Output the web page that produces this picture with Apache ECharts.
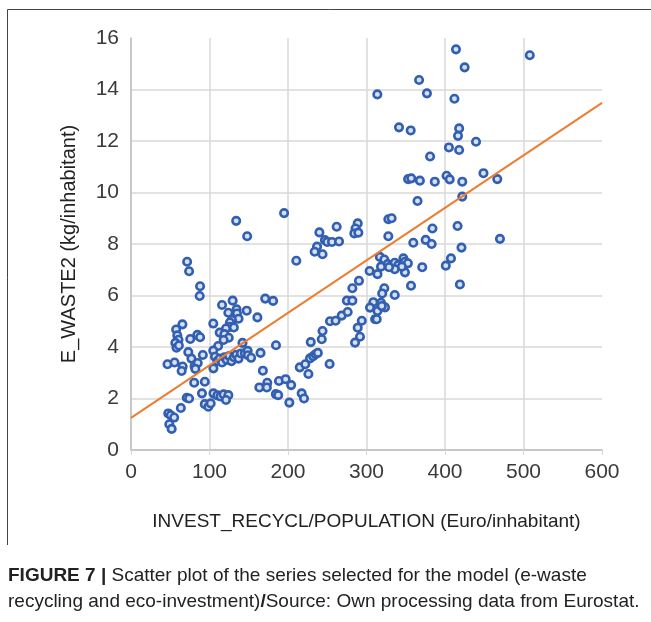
<!DOCTYPE html>
<html><head><meta charset="utf-8">
<script src="https://cdn.jsdelivr.net/npm/echarts@6/dist/echarts.min.js"></script>
<style>html,body{margin:0;padding:0;background:#fff}#c{width:651px;height:622px}</style>
</head><body><div id="c"></div>
<script>
// INVEST_RECYCL/POPULATION (Euro/inhabitant)
const invest = [
 48.8,51.8,47.5,50.6,55,63.5,71,74,46.5,55.5,65.8,64.5,65.5,57.5,59,60.5,56.5,58,61,71.5,
 74,88,87.5,75.5,84.5,88,73,77,81,85,82,91.5,80.5,94,90.4,94,98.5,101.5,105,110,
 114,118,124,121,129.5,116,134.5,135,147.4,124,137,128.5,126,104.8,126,131,121,113,119,124.5,
 118,111,104.8,142,105,107,110,113,116,119,122,125,128,131,134,137,140,145,148.6,149,
 153,165,134,148,195,210.6,171,181,161,184.7,163.5,173.6,173,168,184.5,187.5,188.5,197,204,201.7,
 217.4,220.4,215,222,226,228,232,235,238,229,243,253,244,240,262,247,250,256,265,237,
 234,244,253.5,260.7,268.4,276,275,282,282,290.4,294,288.8,291.7,285.4,288.8,286,284.5,289.6,304,314,
 349,371,401,407.6,356.7,419,322.7,320,336,308.7,304.5,314,318.5,323.6,319.4,311,313,317,322.7,327,
 332,336,340.5,347,349,352.7,345,336,328.7,318.5,327.8,332,327.8,384,416,359.6,375.4,383,421,470,
 365,422,353,357,368,387,402,406,422,449,466.6,381,405,418,439.5,418,416.6,341.4,356.3,313.8,
 377,412,367,425,414,508
];
// E_WASTE2 (kg/inhabitant)
const ewaste = [
 1.0,0.82,1.42,1.35,1.26,1.63,2.03,2.0,3.33,3.4,3.24,3.07,4.88,4.68,4.45,4.28,4.16,3.97,4.06,7.31,
 6.94,6.36,5.98,4.31,4.47,4.38,3.8,3.55,3.25,3.38,3.15,3.69,2.61,2.65,2.2,1.78,1.68,1.81,2.2,2.12,
 2.08,2.16,2.13,1.94,5.8,5.63,5.46,5.3,5.41,5.33,5.1,5.05,4.95,4.91,4.78,4.76,4.72,4.56,4.5,4.36,
 4.27,4.04,3.86,4.16,3.17,3.62,3.45,3.55,3.4,3.6,3.5,3.65,3.45,3.6,3.7,3.55,3.75,3.76,3.85,3.68,
 3.58,3.77,8.9,8.3,9.2,7.35,5.88,5.79,5.15,4.07,2.43,2.61,2.43,3.08,2.17,2.13,2.68,2.75,2.52,1.84,
 2.2,2.0,3.21,3.33,2.95,3.56,3.64,3.72,3.77,4.19,4.3,3.34,4.62,8.45,8.67,8.15,8.08,8.08,8.1,7.9,
 7.7,7.6,5.0,5.02,5.22,5.36,5.8,5.8,6.28,6.57,5.02,4.75,4.4,4.17,8.8,8.6,8.41,8.44,6.95,6.83,
 6.9,7.1,7.16,7.44,6.38,6.43,6.28,6.08,6.02,5.74,5.53,5.4,5.72,5.54,5.59,5.08,5.08,7.5,7.4,7.22,
 7.14,7.27,7.18,7.44,7.31,7.25,7.12,7.02,7.1,7.12,8.96,9.0,8.3,8.6,8.7,8.05,8.16,8.0,7.86,8.2,
 9.67,9.84,10.52,10.55,10.46,10.42,10.65,10.51,10.42,10.75,10.52,11.4,11.75,11.65,11.97,12.49,12.2,12.53,12.41,13.81,
 13.85,13.64,14.37,14.86,15.56,15.33
];
// Linear trend line end points
const trendX = [0, 600];
const trendY = [1.25, 13.48];

const points = invest.map((x, i) => [x, ewaste[i]]);
const trend = trendX.map((x, i) => [x, trendY[i]]);

const chart = echarts.init(document.getElementById('c'));
const font = "'Liberation Sans', Arial, sans-serif";
chart.setOption({
  animation: false,
  backgroundColor: '#fff',
  grid: { left: 131, right: 49, top: 38, bottom: 172 },
  xAxis: {
    type: 'value', min: 0, max: 600, interval: 100,
    name: 'INVEST_RECYCL/POPULATION (Euro/inhabitant)',
    nameLocation: 'middle', nameGap: 62,
    nameTextStyle: { fontFamily: font, fontSize: 19, color: '#222' },
    axisLine: { show: true, lineStyle: { color: '#bfbfbf', width: 1.5 } },
    axisTick: { show: true, length: 5, lineStyle: { color: '#d9d9d9' } },
    axisLabel: { fontFamily: font, fontSize: 21, color: '#3a3a3a', margin: 12 },
    splitLine: { show: true, showMaxLine: false, lineStyle: { color: '#d9d9d9', width: 1.5 } }
  },
  yAxis: {
    type: 'value', min: 0, max: 16, interval: 2,
    name: 'E_WASTE2 (kg/inhabitant)',
    nameLocation: 'middle', nameGap: 52, nameRotate: 90,
    nameTextStyle: { fontFamily: font, fontSize: 20, color: '#222' },
    axisLine: { show: true, lineStyle: { color: '#bfbfbf', width: 1.5 } },
    axisTick: { show: false },
    axisLabel: { fontFamily: font, fontSize: 21, color: '#3a3a3a', margin: 12 },
    splitLine: { show: true, showMaxLine: false, lineStyle: { color: '#d9d9d9', width: 1.5 } }
  },
  series: [
    {
      type: 'scatter', data: points, symbol: 'circle', symbolSize: 7.5,
      itemStyle: { color: '#d6e0f3', borderColor: '#335fb0', borderWidth: 2.6, opacity: 1 },
      z: 3
    },
    {
      type: 'line', data: trend, showSymbol: false, symbol: 'none',
      lineStyle: { color: '#ed7d31', width: 2 }, z: 4
    }
  ],
  graphic: [
    { type: 'polyline', shape: { points: [[7.5, 545], [7.5, 9.5], [651, 9.5]] },
      style: { stroke: '#444', lineWidth: 1, fill: null } },
    { type: 'text', left: 8, top: 566,
      style: {
        text: '{b|FIGURE 7 |} Scatter plot of the series selected for the model (e-waste',
        fontFamily: font, fontSize: 19, fill: '#222',
        rich: { b: { fontWeight: 'bold', fontFamily: font, fontSize: 19, fill: '#222' } }
      } },
    { type: 'text', left: 8, top: 592,
      style: {
        text: 'recycling and eco-investment){b|/}Source: Own processing data from Eurostat.',
        fontFamily: font, fontSize: 19, fill: '#222',
        rich: { b: { fontWeight: 'bold', fontFamily: font, fontSize: 19, fill: '#222' } }
      } }
  ]
});
</script>
</body></html>
